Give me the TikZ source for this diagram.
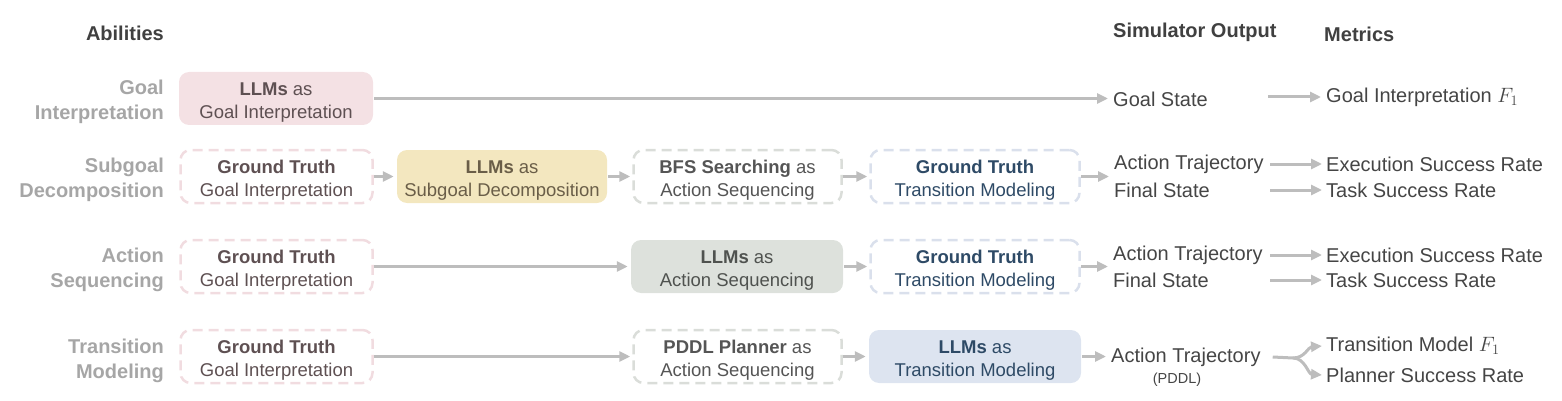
\documentclass[tikz,border=0pt]{standalone}
\usepackage{fontspec}
\setmainfont{Liberation Sans}
\usetikzlibrary{arrows.meta,calc}
\definecolor{arrgray}{HTML}{BDBDBD}
\definecolor{lblgray}{HTML}{A6A6A6}
\definecolor{hdr}{HTML}{404040}
\definecolor{outtxt}{HTML}{454545}
\definecolor{fpink}{HTML}{F4E1E4}
\definecolor{fyellow}{HTML}{F3E7BF}
\definecolor{fgreen}{HTML}{DDE1DC}
\definecolor{fblue}{HTML}{DDE4F0}
\definecolor{dpink}{HTML}{F1DCE0}
\definecolor{dgray}{HTML}{DADDD9}
\definecolor{dblue}{HTML}{DAE0EC}
\definecolor{tpink}{HTML}{5E5052}
\definecolor{tyellow}{HTML}{6A5E48}
\definecolor{tgray}{HTML}{555555}
\definecolor{tgreen}{HTML}{4F524F}
\definecolor{tblue}{HTML}{2E4A66}
\newcommand{\bxs}{\rule{0pt}{20pt}}
\begin{document}
\begin{tikzpicture}[x=1pt,y=-1pt,
  box/.style={rounded corners=10pt, minimum height=53pt, align=center, inner sep=0pt,
    font=\fontsize{18.5}{23}\selectfont, line width=2.5pt},
  dbox/.style={box, dash pattern=on 10pt off 6pt},
  pinkfill/.style={box, fill=fpink, text=tpink, minimum width=194pt},
  yellowfill/.style={box, fill=fyellow, text=tyellow, minimum width=210pt},
  greenfill/.style={box, fill=fgreen, text=tgreen, minimum width=212pt},
  bluefill/.style={box, fill=fblue, text=tblue, minimum width=212pt},
  pinkdash/.style={dbox, draw=dpink, text=tpink, minimum width=192pt},
  graydash/.style={dbox, draw=dgray, text=tgray, minimum width=208pt},
  bluedash/.style={dbox, draw=dblue, text=tblue, minimum width=209pt},
  rowlbl/.style={anchor=east, align=right, inner sep=0pt, text=lblgray,
    font=\fontsize{20}{25}\selectfont\bfseries},
  header/.style={inner sep=0pt, text=hdr, font=\fontsize{20}{22}\selectfont\bfseries},
  outtext/.style={anchor=west, inner sep=0pt, text=outtxt, font=\fontsize{20}{24}\selectfont},
  arr/.style={draw=arrgray, line width=3pt, -{Triangle[length=11pt,width=10pt]}},
  plainline/.style={draw=arrgray, line width=3pt}
]
\useasboundingbox (0,0) rectangle (1562,401);

% headers
\node[header, anchor=east] (hab) at (164,33) {Abilities};
\node[header, anchor=west] (hso) at (1113,32) {Simulator Output};
\node[header, anchor=west] (hme) at (1324,34) {Metrics};

% row labels
\node[rowlbl] (l1) at (164,102) {Goal\\Interpretation};
\node[rowlbl] (l2) at (164,180) {Subgoal\\Decomposition};
\node[rowlbl] (l3) at (164,270) {Action\\Sequencing};
\node[rowlbl] (l4) at (164,361) {Transition\\Modeling};

% row 1
\node[pinkfill] (g1) at (276,98.5) {\bxs\textbf{LLMs} as\\Goal Interpretation};
\node[outtext] (gs1) at (1113,99) {Goal State};
\node[outtext] (m1) at (1326,97) {Goal Interpretation $F_1$};
\draw[arr] (g1.east) -- ([xshift=-5pt]g1.east -| gs1.west);
\draw[arr] ([xshift=-58pt]m1.west) -- ([xshift=-5pt]m1.west);

% row 2
\node[pinkdash] (a2) at (276.5,176.5) {\bxs\textbf{Ground Truth}\\Goal Interpretation};
\node[yellowfill] (b2) at (502,176.5) {\bxs\textbf{LLMs} as\\Subgoal Decomposition};
\node[graydash] (c2) at (737.5,176.5) {\bxs\textbf{BFS Searching} as\\Action Sequencing};
\node[bluedash] (d2) at (975,176.5) {\bxs\textbf{Ground Truth}\\Transition Modeling};
\node[outtext] (at2) at (1114,164) {Action Trajectory};
\node[outtext] (fs2) at (1114,190) {Final State};
\node[outtext] (ex2) at (1326,164) {Execution Success Rate};
\node[outtext] (ts2) at (1326,190) {Task Success Rate};
\draw[arr] (a2.east) -- ([xshift=-2pt]b2.west);
\draw[arr] (b2.east) -- ([xshift=-2pt]c2.west);
\draw[arr] (c2.east) -- ([xshift=-2pt]d2.west);
\draw[arr] (d2.east) -- ([xshift=-5pt]d2.east -| at2.west);
\draw[arr] ([xshift=-56pt]ex2.west) -- ([xshift=-4pt]ex2.west);
\draw[arr] ([xshift=-56pt]ts2.west) -- ([xshift=-4pt]ts2.west);

% row 3
\node[pinkdash] (a3) at (276.5,266.5) {\bxs\textbf{Ground Truth}\\Goal Interpretation};
\node[greenfill] (c3) at (737,266.5) {\bxs\textbf{LLMs} as\\Action Sequencing};
\node[bluedash] (d3) at (975,266.5) {\bxs\textbf{Ground Truth}\\Transition Modeling};
\node[outtext] (at3) at (1113,255) {Action Trajectory};
\node[outtext] (fs3) at (1113,280) {Final State};
\node[outtext] (ex3) at (1326,255) {Execution Success Rate};
\node[outtext] (ts3) at (1326,280) {Task Success Rate};
\draw[arr] (a3.east) -- ([xshift=-2pt]c3.west);
\draw[arr] (c3.east) -- ([xshift=-2pt]d3.west);
\draw[arr] (d3.east) -- ([xshift=-5pt]d3.east -| at3.west);
\draw[arr] ([xshift=-56pt]ex3.west) -- ([xshift=-4pt]ex3.west);
\draw[arr] ([xshift=-56pt]ts3.west) -- ([xshift=-4pt]ts3.west);

% row 4
\node[pinkdash] (a4) at (276.5,356.5) {\bxs\textbf{Ground Truth}\\Goal Interpretation};
\node[graydash] (c4) at (737.5,356.5) {\bxs\textbf{PDDL Planner} as\\Action Sequencing};
\node[bluefill] (d4) at (975,356.5) {\bxs\textbf{LLMs} as\\Transition Modeling};
\node[outtext] (at4) at (1111,357) {Action Trajectory};
\node[inner sep=0pt, text=outtxt, font=\fontsize{14.5}{16}\selectfont] (pd4) at (1177,380) {(PDDL)};
\node[outtext] (tm4) at (1326,346) {Transition Model $F_1$};
\node[outtext] (ps4) at (1326,375) {Planner Success Rate};
\draw[arr] (a4.east) -- ([xshift=-2pt]c4.west);
\draw[arr] (c4.east) -- ([xshift=-2pt]d4.west);
\draw[arr] (d4.east) -- ([xshift=-5pt]d4.east -| at4.west);
\coordinate (br) at (1293,358);
\draw[plainline] ([xshift=12pt]at4.east) -- (br);
\draw[arr] (br) .. controls (1305,358) and (1308,347) .. ([xshift=-4pt]tm4.west);
\draw[arr] (br) .. controls (1305,358) and (1308,374) .. ([xshift=-4pt]ps4.west);
\end{tikzpicture}
\end{document}
